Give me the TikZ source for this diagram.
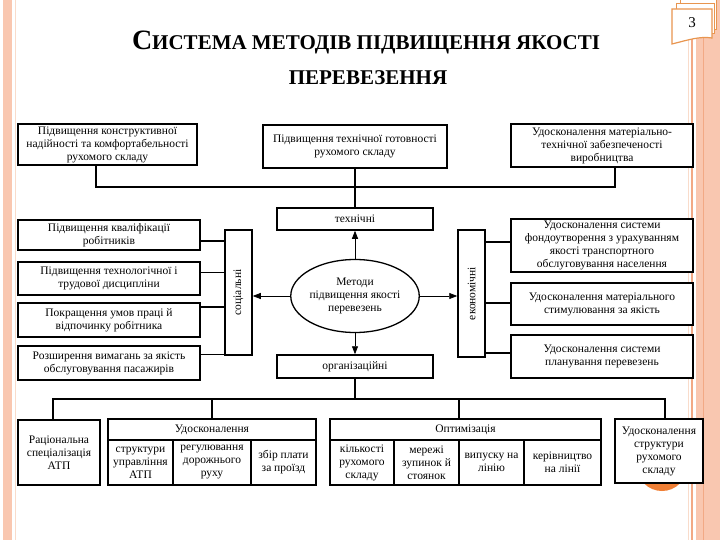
\documentclass[tikz,border=0pt]{standalone}
\usepackage{fontspec}
\setmainfont{Liberation Serif}
\usetikzlibrary{arrows.meta,shapes.geometric}
\definecolor{salmon}{HTML}{F9C7B0}
\definecolor{salmonline}{HTML}{F2A985}
\definecolor{paleline}{HTML}{F9DCCB}
\definecolor{dotorange}{HTML}{F07F35}
\definecolor{taborange}{HTML}{E8954F}
\begin{document}
\begin{tikzpicture}[x=1pt,y=-1pt,
  txt/.style={font=\fontsize{11.5}{13}\selectfont},
  box/.style={draw,line width=1.5pt,fill=white,align=center,inner sep=1pt,txt},
  cell/.style={draw,line width=1.2pt,fill=white,align=center,inner sep=1pt,txt},
  thickline/.style={line width=1.6pt},
  thinline/.style={line width=0.8pt},
  arr/.style={line width=0.8pt,-{Triangle[length=8pt,width=6pt]}},
  titlefont/.style={font=\fontsize{21}{24}\selectfont\bfseries}]
\fill[white] (0,0) rectangle (720,540);
\useasboundingbox (0,0) rectangle (720,540);
% page decoration
\fill[salmon] (3,0) rectangle (12,540);
\draw[paleline,line width=1pt] (15.5,0) -- (15.5,540);
\draw[paleline,line width=1pt] (688,0) -- (688,540);
\draw[salmonline,line width=1.5pt] (692,0) -- (692,540);
\fill[salmon] (696,0) rectangle (720,540);
\draw[salmonline,line width=0.8pt] (703,0) -- (703,540);
\fill[dotorange] (662,466) circle (25);
% page tab
\draw[taborange,line width=1pt,fill=white] (680,0) -- (716,0) -- (716,30) -- (680,30) -- cycle;
\draw[taborange,line width=1pt,fill=white] (676,4) -- (714,4) -- (714,34) -- (676,34) -- cycle;
\draw[taborange,line width=1.2pt,fill=white] (672,9) -- (712,9) -- (712,38) .. controls (700,36) and (688,40) .. (672,44) -- cycle;
\node[font=\fontsize{15}{15}\selectfont] (pg) at (692,23) {3};
% title
\node[titlefont,anchor=base] (t1) at (366,50) {{\fontsize{28}{28}\selectfont С}ИСТЕМА МЕТОДІВ ПІДВИЩЕННЯ ЯКОСТІ};
\node[titlefont,anchor=base] (t2) at (368,85) {ПЕРЕВЕЗЕННЯ};
% top row
\node[box,minimum width=179pt,minimum height=41pt] (b1) at (107.5,144.5) {Підвищення конструктивної\\надійності та комфортабельності\\рухомого складу};
\node[box,minimum width=184pt,minimum height=43pt] (b2) at (355,146.5) {Підвищення технічної готовності\\рухомого складу};
\node[box,minimum width=182pt,minimum height=43pt] (b3) at (602,145.5) {Удосконалення матеріально-\\технічної забезпеченості\\виробництва};
% centre
\node[box,minimum width=156pt,minimum height=22pt] (tech) at (355,219) {технічні};
\node[box,minimum width=156pt,minimum height=23pt] (org) at (355,366.5) {організаційні};
\node[draw,ellipse,line width=1.3pt,fill=white,minimum width=106pt,minimum height=73pt,inner sep=0pt,align=center,txt] (m) at (355,296) {Методи\\підвищення якості\\перевезень};
\node[box,minimum width=27pt,minimum height=125pt] (soc) at (238.5,292.5) {};
\node[txt,rotate=90] (soclab) at (soc.center) {соціальні};
\node[box,minimum width=27pt,minimum height=127pt] (econ) at (471.5,293.5) {};
\node[txt,rotate=90] (econlab) at (econ.center) {економічні};
% left boxes
\node[box,minimum width=182pt,minimum height=30pt] (l1) at (109,235) {Підвищення кваліфікації\\робітників};
\node[box,minimum width=182pt,minimum height=33pt] (l2) at (109,278.5) {Підвищення технологічної і\\трудової дисципліни};
\node[box,minimum width=182pt,minimum height=34pt] (l3) at (109,320) {Покращення умов праці й\\відпочинку робітника};
\node[box,minimum width=182pt,minimum height=34pt] (l4) at (109,363) {Розширення вимагань за якість\\обслуговування пасажирів};
% right boxes
\node[box,minimum width=182pt,minimum height=53pt] (r1) at (602,245.5) {Удосконалення системи\\фондоутворення з урахуванням\\якості транспортного\\обслуговування населення};
\node[box,minimum width=182pt,minimum height=42pt] (r2) at (602,304) {Удосконалення матеріального\\стимулювання за якість};
\node[box,minimum width=182pt,minimum height=43pt] (r3) at (602,356.5) {Удосконалення системи\\планування перевезень};
% bottom boxes
\node[box,minimum width=82pt,minimum height=65pt] (bb1) at (59,452.5) {Раціональна\\спеціалізація\\АТП};
\node[cell,minimum width=208pt,minimum height=21pt] (g1h) at (212,429.5) {Удосконалення};
\node[cell,minimum width=65pt,minimum height=45pt] (g1a) at (140.5,462.5) {структури\\управління\\АТП};
\node[cell,minimum width=78pt,minimum height=45pt] (g1b) at (212,462.5) {регулювання\\дорожнього\\руху};
\node[cell,minimum width=65pt,minimum height=45pt] (g1c) at (283.5,462.5) {збір плати\\за проїзд};
\node[cell,minimum width=271pt,minimum height=21pt] (g2h) at (465.5,429.5) {Оптимізація};
\node[cell,minimum width=64pt,minimum height=45pt] (g2a) at (362,462.5) {кількості\\рухомого\\складу};
\node[cell,minimum width=65pt,minimum height=45pt] (g2b) at (426.5,462.5) {мережі\\зупинок й\\стоянок};
\node[cell,minimum width=65pt,minimum height=45pt] (g2c) at (491.5,462.5) {випуску на\\лінію};
\node[cell,minimum width=77pt,minimum height=45pt] (g2d) at (562.5,462.5) {керівництво\\на лінії};
\node[box,minimum width=88pt,minimum height=64pt] (rb) at (659,451) {Удосконалення\\структури\\рухомого\\складу};
% top bus
\coordinate (bl) at (96,187);
\coordinate (br) at (615,187);
\draw[thickline] (b1.south -| bl) -- (bl) -- (br) -- (b3.south -| br);
\draw[thickline] (b2.south) -- (tech.north);
% arrows from centre
\draw[arr] (m.north) -- (tech.south);
\draw[arr] (m.south) -- (org.north);
\draw[arr] (m.west) -- (m.west -| soc.east);
\draw[arr] (m.east) -- (m.east -| econ.west);
% left connectors
\draw[thickline] (l1.east |- 0,241) -- (soc.west |- 0,241);
\draw[thinline] (l2.east |- 0,272) -- (soc.west |- 0,272);
\draw[thickline] (l3.east |- 0,307) -- (soc.west |- 0,307);
\draw[thinline] (l4.east |- 0,354) -- (soc.west |- 0,354);
% right connectors
\draw[thickline] (econ.east |- 0,242) -- (r1.west |- 0,242);
\draw[thickline] (econ.east |- 0,303) -- (r2.west |- 0,303);
\draw[thickline] (econ.east |- 0,353) -- (r3.west |- 0,353);
% bottom bus
\coordinate (dl) at (53,399);
\coordinate (dr) at (665,399);
\coordinate (d3) at (459,399);
\draw[thickline] (bb1.north -| dl) -- (dl) -- (dr) -- (rb.north -| dr);
\draw[thickline] (org.south) -- (org.south |- dl);
\draw[thickline] (g1h.north |- dl) -- (g1h.north);
\draw[thickline] (d3) -- (d3 |- g2h.north);
\end{tikzpicture}
\end{document}
